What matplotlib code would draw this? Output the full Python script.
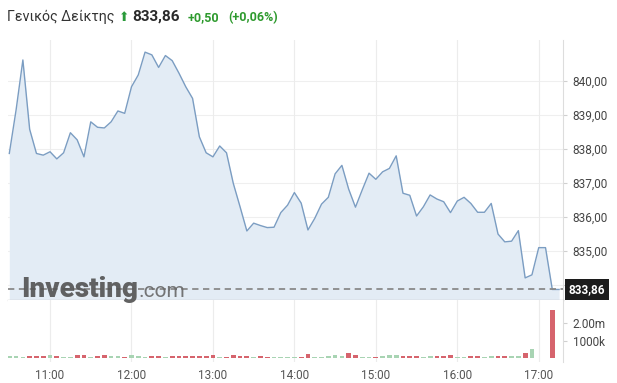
import matplotlib
matplotlib.use("Agg")
import matplotlib.pyplot as plt
import numpy as np
import pandas as pd

plt.rcParams['font.family'] = ['Roboto', 'DejaVu Sans']

# ---------------- data ----------------
start_time = "10:30"
interval_min = 5
prices = [
    837.86, 839.14, 840.61, 838.57, 837.86, 837.81, 837.91, 837.70, 837.88, 838.47,
    838.26, 837.76, 838.79, 838.63, 838.61, 838.79, 839.11, 839.04, 839.82, 840.17,
    840.84, 840.76, 840.39, 840.74, 840.59, 840.22, 839.82, 839.48, 838.35, 837.88,
    837.76, 838.08, 837.88, 836.98, 836.29, 835.58, 835.81, 835.74, 835.68, 835.69,
    836.12, 836.34, 836.71, 836.40, 835.61, 835.95, 836.37, 836.57, 837.26, 837.51,
    836.81, 836.28, 836.79, 837.28, 837.10, 837.32, 837.42, 837.79, 836.69, 836.63,
    836.02, 836.29, 836.64, 836.52, 836.44, 836.12, 836.46, 836.57, 836.39, 836.13,
    836.13, 836.39, 835.49, 835.26, 835.28, 835.59, 834.20, 834.29, 835.09, 835.09,
    833.86, 833.86,
]
volumes_k = [
    110, 90, 70, 90, 100, 100, 150, 100, 70, 70,
    190, 190, 80, 100, 160, 110, 90, 80, 180, 100,
    70, 100, 90, 80, 100, 90, 100, 100, 100, 110,
    160, 50, 60, 150, 90, 90, 80, 90, 50, 50,
    60, 60, 50, 60, 250, 70, 50, 110, 160, 130,
    300, 150, 50, 60, 80, 100, 160, 200, 130, 110,
    120, 60, 100, 120, 100, 160, 60, 40, 90, 90,
    70, 90, 120, 120, 100, 100, 300, 520, 0, 0,
    2750, 0,
]
last_price = 833.86
title_name = "Γενικός Δείκτης"
title_price = "833,86"
title_change = "+0,50"
title_pct = "(+0,06%)"
price_ticks = [834, 835, 836, 837, 838, 839, 840]
hour_ticks = [11, 12, 13, 14, 15, 16, 17]
vol_ticks = [1.0, 2.0]
vol_tick_labels = ["1000k", "2.00m"]

# ---------------- derived ----------------
times = pd.date_range("2024-01-01 " + start_time, periods=len(prices), freq=f"{interval_min}min")
t = np.asarray(times.hour + times.minute / 60.0, dtype=float)
vol_m = np.asarray(volumes_k) / 1000.0
p = np.asarray(prices)
up = np.concatenate([[True], p[1:] >= p[:-1]])
bar_colors = np.where(up, "#a8d4b3", "#d6646d")

W, H = 617, 383
fig = plt.figure(figsize=(W / 100, H / 100), dpi=100)

def rect(l, top, r, bot):
    return [l / W, 1 - bot / H, (r - l) / W, (bot - top) / H]

ax = fig.add_axes(rect(8, 40, 563, 300))
axv = fig.add_axes(rect(8, 300, 563, 362), sharex=ax)

xlim = (10.484, 17.298)
ylo, yhi = 833.55, 841.197

# grid
for y in price_ticks:
    ax.axhline(y, color="#efefef", lw=0.8, zorder=0)
for h in hour_ticks:
    ax.axvline(h, color="#ececec", lw=0.8, zorder=0)
    axv.axvline(h, color="#ececec", lw=0.8, zorder=0)

ax.fill_between(t, p, ylo, color="#e3ecf5", zorder=1, lw=0)
ax.plot(t, p, color="#7b9dc2", lw=1.0, zorder=2)
ax.axhline(last_price, color="#8a8a8a", lw=1.3, ls=(0, (3.5, 2.5)), zorder=3)

ax.set_xlim(*xlim)
ax.set_ylim(ylo, yhi)
ax.yaxis.tick_right()
ax.set_yticks(price_ticks)
ax.set_yticklabels([f"{v:.2f}".replace(".", ",") for v in price_ticks])
ax.tick_params(axis="y", length=3, color="#d0d0d0", labelsize=8.5, labelcolor="#444444", pad=4)
ax.tick_params(axis="x", length=0, labelbottom=False)
for s in ["top", "left"]:
    ax.spines[s].set_visible(False)
ax.spines["right"].set_color("#dddddd")
ax.spines["bottom"].set_color("#c8c8c8")
ax.spines["bottom"].set_linewidth(1.0)

# price label box (covers the 834,00 tick label as in the original)
ax.annotate(f"{last_price:.2f}".replace(".", ","),
            xy=(1, last_price), xycoords=("axes fraction", "data"),
            xytext=(4, 0), textcoords="offset points", va="center", ha="left",
            fontsize=8.5, fontweight="bold", color="white",
            bbox=dict(boxstyle="square,pad=0.3", fc="#1c1c1c", ec="none"),
            annotation_clip=False, zorder=5)

# volume
axv.bar(t, vol_m, width=interval_min / 60 * 0.7, color=bar_colors, zorder=2)
axv.set_ylim(-4 / 17.5, 58 / 17.5)
axv.set_xlim(*xlim)
axv.yaxis.tick_right()
axv.set_yticks(vol_ticks)
axv.set_yticklabels(vol_tick_labels)
axv.tick_params(axis="y", length=3, color="#d0d0d0", labelsize=8.5, labelcolor="#444444", pad=4)
axv.set_xticks(hour_ticks)
axv.set_xticklabels([f"{h}:00" for h in hour_ticks])
axv.tick_params(axis="x", length=0, labelsize=8.5, labelcolor="#555555", pad=5)
for s in ["top", "left", "bottom"]:
    axv.spines[s].set_visible(False)
axv.spines["right"].set_color("#dddddd")

# watermark
renderer = fig.canvas.get_renderer()
wm = fig.text(21 / W, 1 - 297 / H, "Investing", fontsize=20, fontweight="black",
              color="#555555", alpha=0.92, ha="left", va="baseline")
bb = wm.get_window_extent(renderer)
fig.text(bb.x1 / W + 1 / W, 1 - 297 / H, ".com", fontsize=15, fontweight="normal",
         color="#6a6a6a", alpha=0.92, ha="left", va="baseline")

# title
base = 1 - 21 / H
fig.text(7 / W, base, title_name, fontsize=10.2, color="#333333", ha="left", va="baseline")
fig.text(118.5 / W, base, "\u2b06", fontsize=9, color="#2a9a3a", ha="left", va="baseline",
         family=["DejaVu Sans"])
fig.text(132 / W, base, title_price, fontsize=11, fontweight="bold", color="#2a2a2a",
         ha="left", va="baseline")
fig.text(188 / W, base, title_change, fontsize=9, fontweight="bold", color="#2e9a2e",
         ha="left", va="baseline")
fig.text(228 / W, base, title_pct, fontsize=9, fontweight="bold", color="#2e9a2e",
         ha="left", va="baseline")

fig.savefig("out.png", dpi=100)
